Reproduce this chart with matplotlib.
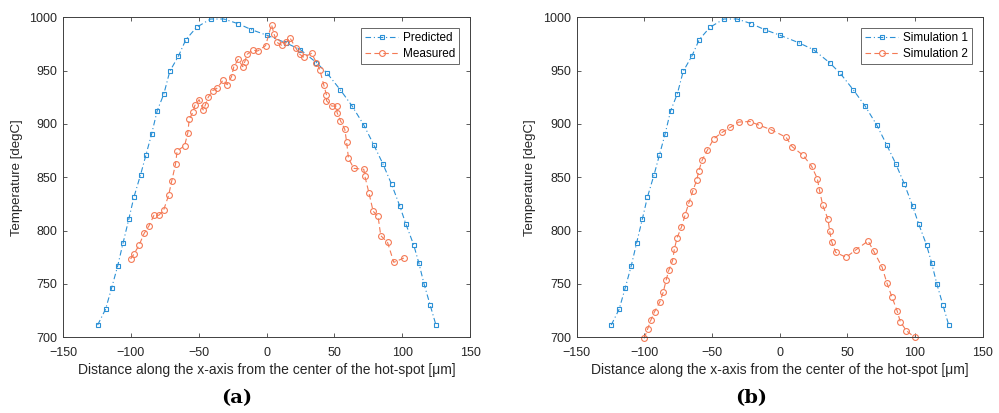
import matplotlib.pyplot as plt

# --- Data ---
pred_x = [-124.5, -118.6, -114.2, -109.8, -105.7, -101.5, -97.8, -92.8, -88.9, -84.7,
          -80.6, -75.7, -71.3, -64.9, -59.5, -51.6, -41.3, -31.5, -20.9, -11.1,
          0, 14, 25, 36.8, 44.7, 54.5, 63.1, 71.7, 79.1, 85.7,
          92.2, 98.2, 102.7, 108.5, 112.2, 116.1, 120.6, 124.8]
pred_y = [711.5, 726.5, 746.2, 766.5, 788.7, 810.9, 831.2, 852.6, 870.9, 890.6,
          912.4, 928.1, 949.4, 963.7, 979, 990.6, 998.4, 998.4, 994, 988.4,
          983.3, 976.2, 969.6, 957.5, 947.5, 931.8, 916.8, 899, 880.3, 862.8,
          843.4, 823.1, 806.2, 786.5, 770, 750, 730.3, 711.8]

meas_x = [-100.2, -97.8, -93.9, -90.2, -86.7, -83, -79.4, -75.9, -72.2, -69.8,
          -67.1, -65.9, -60.4, -58, -57, -54.1, -52.8, -49.7, -46.7, -45,
          -43, -39.8, -36.4, -32, -29, -25.8, -24.1, -20.9, -17.5, -16,
          -14.3, -10.3, -6.6, -0.7, 3.7, 5.6, 7.8, 11.3, 14.7, 17.2,
          21.4, 24.5, 27.5, 33.2, 36.8, 39.3, 42.2, 44.2, 44.2, 48.1,
          51.6, 52, 54.5, 57.7, 59, 60.4, 64.3, 71.7, 72.5, 75.5,
          78.6, 82.2, 84.2, 89.2, 93.8, 101.4]
meas_y = [773.4, 777.8, 786.5, 797.5, 804.4, 814.4, 814.4, 819.1, 833.1, 847,
          862.2, 874.7, 879.6, 891.8, 904.4, 911.5, 917.5, 922.8, 913.1, 918.1,
          925, 931.2, 933.7, 941.2, 936.8, 944.3, 953.7, 960.6, 953.7, 958.4,
          965.3, 969.3, 968.4, 973.4, 993, 984, 976.4, 973.7, 976.8, 980.9,
          971.5, 965.3, 962.5, 966.2, 957.5, 950.6, 936.5, 927.2, 921.8, 916.8,
          916.8, 910.6, 903.1, 894.9, 883.4, 867.8, 858.4, 857.5, 851, 835.3,
          818.1, 813.4, 795.3, 789, 770.3, 774.4]

# Simulation 1 is the same curve as Predicted
sim1_x = pred_x
sim1_y = pred_y

sim2_x = [-100.1, -97.7, -95.3, -92.5, -88.6, -86.1, -83.9, -82, -79.2, -77.8,
          -75.8, -72.6, -69.9, -67.2, -64.3, -61.3, -59.8, -57.3, -53.4, -48.7,
          -42.5, -36.4, -30.3, -22, -15.5, -6.3, 4.7, 9.2, 17.3, 23.6,
          27.8, 29.3, 31.8, 35.7, 36.9, 38.4, 41.4, 49, 56.1, 65.3,
          69.4, 75.6, 79.3, 83, 86.7, 89.1, 93.6, 99.7]
sim2_y = [699, 707.5, 715.9, 724, 733.1, 742.2, 753.7, 762.8, 771.8, 783.1,
          793.4, 803.4, 814.7, 825.9, 836.9, 847.5, 856, 866.2, 875.6, 886.2,
          892.2, 896.9, 901.8, 902.3, 899, 894.6, 887.5, 878.7, 870.6, 860.3,
          848.7, 838.4, 823.7, 810.6, 799.4, 789.6, 779.6, 775, 781.8, 790.3,
          780.9, 765.9, 750.6, 737.5, 725, 714.6, 706.2, 700]

x_ticks = [-150, -100, -50, 0, 50, 100, 150]
y_ticks = [700, 750, 800, 850, 900, 950, 1000]

blue = '#2b90d5'
orange = '#f47a55'
axis_col = '#404040'
text_col = '#262626'

plt.rcParams['font.family'] = ['Liberation Sans', 'DejaVu Sans']

fig = plt.figure(figsize=(9.99, 4.13), dpi=100)
ax1 = fig.add_axes([0.0631, 0.1833, 0.4074, 0.7748])
ax2 = fig.add_axes([0.5773, 0.1833, 0.4064, 0.7748])


def style(ax):
    ax.set_xlim(-150, 150)
    ax.set_ylim(700, 1000)
    ax.set_xticks(x_ticks)
    ax.set_yticks(y_ticks)
    ax.tick_params(direction='in', top=True, right=True, length=3, width=0.6,
                   labelsize=9, colors=axis_col)
    ax.tick_params(axis='x', labelcolor=text_col, pad=7)
    ax.tick_params(axis='y', labelcolor=text_col, pad=4)
    for s in ax.spines.values():
        s.set_color(axis_col)
        s.set_linewidth(0.7)
    ax.set_xlabel('Distance along the x-axis from the center of the hot-spot [\u03bcm]',
                  fontsize=10, color=text_col, labelpad=3)
    ax.set_ylabel('Temperature [degC]', fontsize=9.5, color=text_col, labelpad=5)


def add_legend(ax):
    leg = ax.legend(loc='upper right', fontsize=8.5, frameon=True, fancybox=False,
                    edgecolor=axis_col, borderpad=0.35, handlelength=2.8,
                    labelspacing=0.35, borderaxespad=0.9, handletextpad=0.4)
    leg.get_frame().set_linewidth(0.7)


blue_style = dict(color=blue, lw=0.8, dashes=(5, 2.5, 1, 2.5), marker='s', ms=3.5,
                  mfc='none', mew=0.8)
orange_style = dict(color=orange, lw=0.8, dashes=(5, 3), marker='o', ms=4.2,
                    mfc='none', mew=0.8)

# Left panel
ax1.plot(pred_x, pred_y, label='Predicted', **blue_style)
ax1.plot(meas_x, meas_y, label='Measured', **orange_style)
style(ax1)
add_legend(ax1)

# Right panel
ax2.plot(sim1_x, sim1_y, label='Simulation 1', **blue_style)
ax2.plot(sim2_x, sim2_y, label='Simulation 2', clip_on=False, **orange_style)
style(ax2)
add_legend(ax2)

# Panel labels
fig.text(0.237, 0.036, '(a)', ha='center', va='center', fontsize=14,
         fontweight='bold', family='DejaVu Serif')
fig.text(0.752, 0.036, '(b)', ha='center', va='center', fontsize=14,
         fontweight='bold', family='DejaVu Serif')

plt.savefig('out.png', dpi=100)
